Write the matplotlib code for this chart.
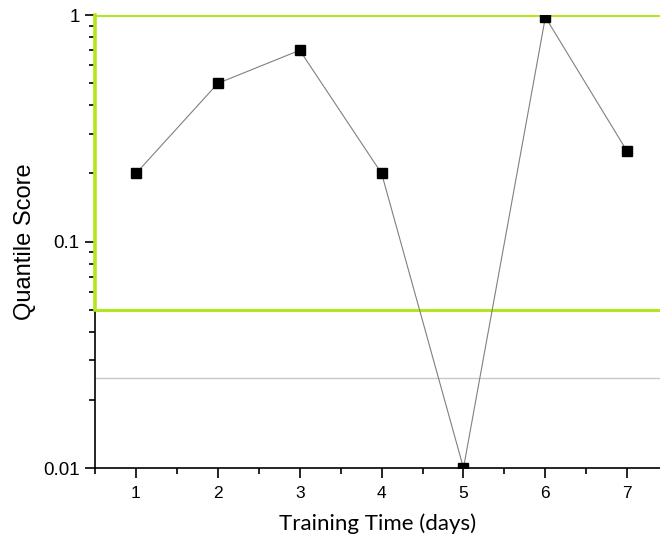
import numpy as np
import matplotlib.pyplot as plt
from matplotlib.ticker import FixedLocator, FixedFormatter, LogLocator, NullFormatter

# Data
days = [1, 2, 3, 4, 5, 6, 7]
scores = [0.2, 0.5, 0.7, 0.2, 0.01, 0.98, 0.25]
upper_ref = 1.0
lower_ref = 0.05
gray_ref = 0.025

green = '#b4e61e'

fig = plt.figure(figsize=(6.6, 5.42), dpi=100)
ax = fig.add_axes([0.144, 0.1365, 0.856, 0.8355])

# Reference lines
ax.axhline(upper_ref, color=green, lw=2.2, zorder=1)
ax.axhline(lower_ref, color=green, lw=2.2, zorder=1)
ax.axhline(gray_ref, color='#c8c8c8', lw=1.0, zorder=1)
ax.plot([0.5, 0.5], [lower_ref, upper_ref], color=green, lw=2.6, zorder=3, clip_on=False)

# Series
ax.plot(days, scores, color='#808080', lw=0.8, marker='s', markersize=7,
        markerfacecolor='black', markeredgecolor='black', zorder=4)

ax.set_yscale('log')
ax.set_ylim(0.01, 1)
ax.set_xlim(0.5, 7.4)

ax.yaxis.set_major_locator(FixedLocator([0.01, 0.1, 1]))
ax.yaxis.set_major_formatter(FixedFormatter(['0.01', '0.1', '1']))
ax.yaxis.set_minor_locator(LogLocator(base=10, subs=np.arange(2, 10)))
ax.yaxis.set_minor_formatter(NullFormatter())

ax.set_xticks(days)
ax.set_xticks(np.arange(0.5, 7.5, 0.5), minor=True)

for s in ['top', 'right']:
    ax.spines[s].set_visible(False)
ax.spines['left'].set_linewidth(1.2)
ax.spines['bottom'].set_linewidth(1.2)

ax.tick_params(which='major', direction='out', length=7, width=1.2)
ax.tick_params(which='minor', direction='out', length=4, width=1.2)
ax.tick_params(axis='y', labelsize=13.5, pad=4)
ax.tick_params(axis='x', labelsize=12.5, pad=6)

ax.set_ylabel('Quantile Score', fontsize=17, family='Liberation Sans', labelpad=5)
ax.set_xlabel('Training Time (days)', fontsize=16, family='Lato', labelpad=9)
for lbl in ax.get_yticklabels():
    lbl.set_family('Liberation Sans')
for lbl in ax.get_xticklabels():
    lbl.set_family('Liberation Sans')

fig.savefig('out.png', dpi=100)
